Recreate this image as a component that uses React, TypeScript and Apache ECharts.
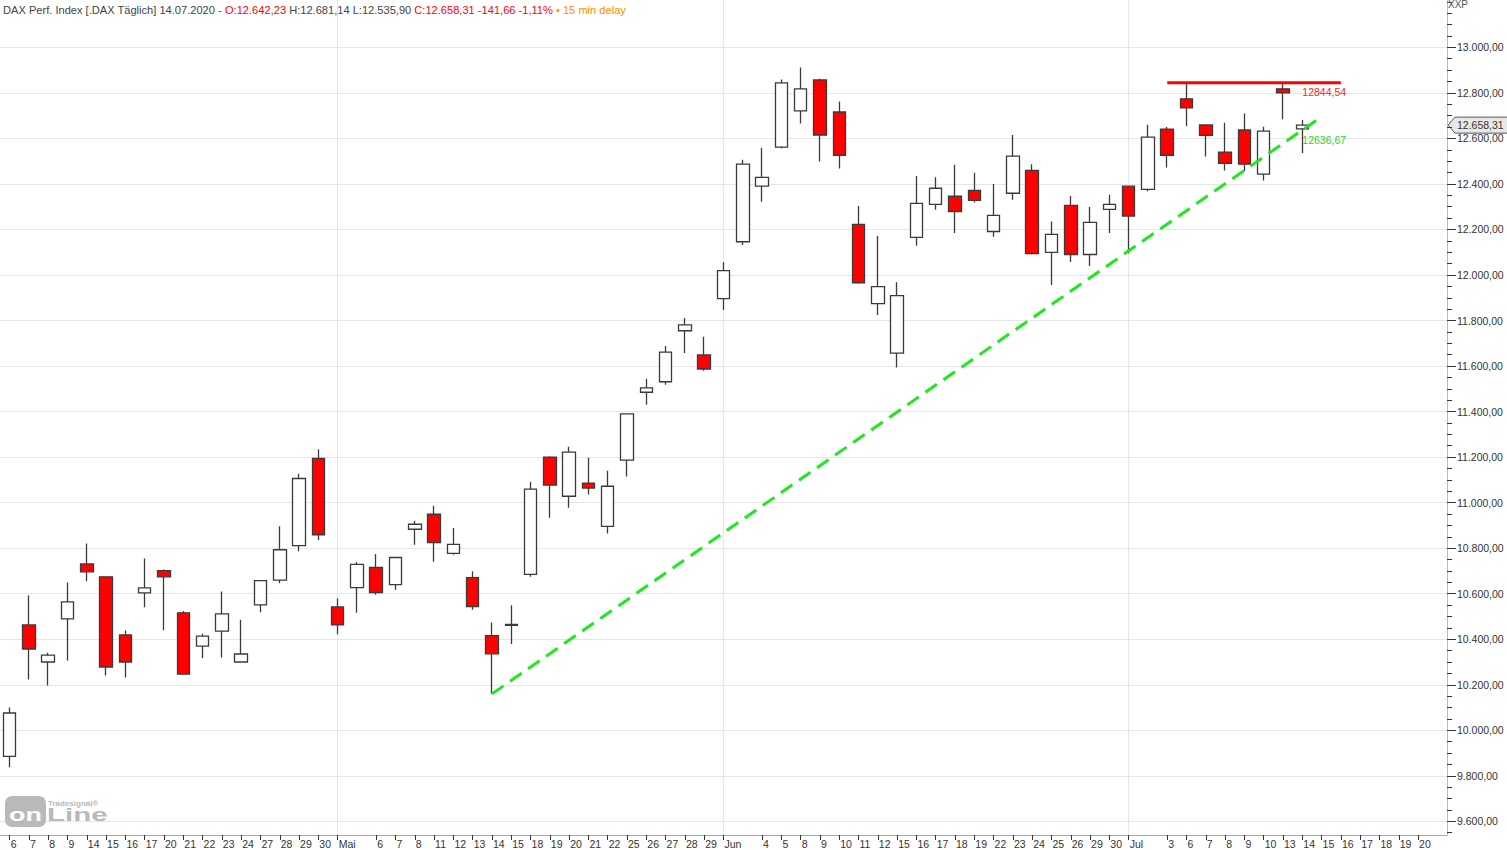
import { useEffect, useRef } from 'react';
import * as echarts from 'echarts';

const FONT = '"Liberation Sans", Arial, sans-serif';

// ---- categories (trading days + future calendar days) ----
const dates = [
  '2020-04-06', '2020-04-07', '2020-04-08', '2020-04-09', '2020-04-14', '2020-04-15', '2020-04-16', '2020-04-17',
  '2020-04-20', '2020-04-21', '2020-04-22', '2020-04-23', '2020-04-24', '2020-04-27', '2020-04-28', '2020-04-29', '2020-04-30',
  '2020-05-04', '2020-05-05', '2020-05-06', '2020-05-07', '2020-05-08', '2020-05-11', '2020-05-12', '2020-05-13', '2020-05-14',
  '2020-05-15', '2020-05-18', '2020-05-19', '2020-05-20', '2020-05-21', '2020-05-22', '2020-05-25', '2020-05-26', '2020-05-27',
  '2020-05-28', '2020-05-29',
  '2020-06-02', '2020-06-03', '2020-06-04', '2020-06-05', '2020-06-08', '2020-06-09', '2020-06-10', '2020-06-11', '2020-06-12',
  '2020-06-15', '2020-06-16', '2020-06-17', '2020-06-18', '2020-06-19', '2020-06-22', '2020-06-23', '2020-06-24', '2020-06-25',
  '2020-06-26', '2020-06-29', '2020-06-30',
  '2020-07-01', '2020-07-02', '2020-07-03', '2020-07-06', '2020-07-07', '2020-07-08', '2020-07-09', '2020-07-10', '2020-07-13',
  '2020-07-14', '2020-07-15', '2020-07-16', '2020-07-17', '2020-07-18', '2020-07-19', '2020-07-20', '2020-07-21',
];

const dayLabels = [
  '6', '7', '8', '9', '14', '15', '16', '17', '20', '21', '22', '23', '24', '27', '28', '29', '30',
  'Mai', '', '6', '7', '8', '11', '12', '13', '14', '15', '18', '19', '20', '21', '22', '25', '26', '27', '28', '29',
  'Jun', '', '4', '5', '8', '9', '10', '11', '12', '15', '16', '17', '18', '19', '22', '23', '24', '25', '26', '29', '30',
  'Jul', '', '3', '6', '7', '8', '9', '10', '13', '14', '15', '16', '17', '18', '19', '20', '',
];

// ---- OHLC values ----
const opens = [
  9885, 10463, 10300, 10489, 10731, 10674, 10419, 10604, 10701, 10516, 10370, 10436, 10300, 10551, 10660, 10811, 11194,
  10542, 10627, 10715, 10640, 10883, 10949, 10777, 10671, 10416, 10461, 10685, 11200, 11028, 11086, 10896, 11187, 11485,
  11531, 11755, 11649,
  11896, 12146, 12390, 12562, 12721, 12857, 12716, 12222, 11874, 11657, 12165, 12310, 12346, 12372, 12191, 12359, 12460,
  12099, 12306, 12090, 12288,
  12390, 12376, 12641, 12774, 12659, 12540, 12637, 12443, 12818, 12642.23,
];
const closes = [
  10076, 10357, 10330, 10564, 10696, 10278, 10300, 10626, 10674, 10247, 10414, 10511, 10335, 10657, 10793, 11106, 10859,
  10463, 10729, 10605, 10759, 10905, 10824, 10817, 10543, 10336, 10465, 11059, 11077, 11222, 11064, 11072, 11390, 11504,
  11661, 11781, 11587,
  12019, 12487, 12429, 12844, 12818, 12615, 12526, 11966, 11949, 11909, 12315, 12381, 12279, 12328, 12262, 12522, 12094,
  12178, 12090, 12231, 12310,
  12259, 12606, 12526, 12734, 12613, 12490, 12487, 12632, 12799.97, 12658.31,
];
const lows = [
  9838, 10223, 10197, 10307, 10655, 10241, 10232, 10540, 10439, 10246, 10316, 10320, 10298, 10518, 10646, 10787, 10836,
  10422, 10516, 10595, 10617, 10815, 10740, 10771, 10529, 10160, 10379, 10674, 10934, 10978, 11036, 10864, 11115, 11430,
  11518, 11657, 11579,
  11846, 12132, 12322, 12556, 12666, 12499, 12468, 11962, 11824, 11594, 12128, 12287, 12185, 12318, 12168, 12331, 12090,
  11956, 12057, 12040, 12185,
  12094, 12368, 12472, 12653, 12521, 12459, 12457, 12415, 12684, 12535.9,
];
const highs = [
  10100, 10592, 10341, 10649, 10821, 10676, 10438, 10755, 10706, 10524, 10424, 10610, 10486, 10660, 10896, 11127, 11235,
  10579, 10739, 10774, 10762, 10920, 10986, 10889, 10699, 10474, 10549, 11092, 11204, 11246, 11197, 11140, 11393, 11544,
  11688, 11811, 11729,
  12056, 12506, 12559, 12859, 12912, 12862, 12762, 12303, 12171, 11968, 12435, 12429, 12484, 12449, 12400, 12615, 12487,
  12235, 12347, 12299, 12352,
  12393, 12660, 12650, 12844.54, 12662, 12669, 12709, 12651, 12840, 12681.14,
];

// ---- y axis tick labels ----
const yLabelValues = [9600, 9800, 10000, 10200, 10400, 10600, 10800, 11000, 11200, 11400, 11600, 11800, 12000, 12200, 12400, 12600, 12800, 13000];
const Y_MIN = 9540;
const Y_MAX = 13208;
const Y_MINOR_STEP = 50;

// ---- drawn lines ----
const monthStarts = ['2020-05-04', '2020-06-02', '2020-07-01'];
const resistanceLine: [string, number][] = [['2020-07-03', 12844.54], ['2020-07-16', 12844.54]];
const trendLine: [string, number][] = [['2020-05-14', 10160], ['2020-07-15', 12695.6]];
const resistanceLabelValue = 12844.54;
const trendLabelValue = 12636.67;

const GRID_RIGHT = 60;
const GRID_BOTTOM = 15;

function fmtDE(v: number, thousands = true): string {
  const neg = v < 0;
  const s = Math.abs(v).toFixed(2);
  let [i, d] = s.split('.');
  if (thousands) i = i.replace(/\B(?=(\d{3})+(?!\d))/g, '.');
  return (neg ? '-' : '') + i + ',' + d;
}

export default function App() {
  const ref = useRef<HTMLDivElement>(null);

  useEffect(() => {
    document.body.style.margin = '0';
    const el = ref.current!;
    const chart = echarts.init(el, null, { renderer: 'svg' });

    const candleData = opens.map((o, i) => [o, closes[i], lows[i], highs[i]]);
    const minorTicks: number[] = [];
    for (let v = Math.ceil(Y_MIN / Y_MINOR_STEP) * Y_MINOR_STEP; v <= Y_MAX; v += Y_MINOR_STEP) minorTicks.push(v);

    const option: any = {
      animation: false,
      backgroundColor: '#ffffff',
      grid: { left: -2.67, right: GRID_RIGHT, top: 0, bottom: GRID_BOTTOM, containLabel: false },
      xAxis: {
        type: 'category',
        data: dates,
        boundaryGap: true,
        axisLine: { show: true, lineStyle: { color: '#c49c9c', width: 1 } },
        axisTick: {
          show: true,
          alignWithLabel: true,
          interval: (i: number) => dayLabels[i] !== '',
          length: 5,
          lineStyle: { color: '#333333' },
        },
        axisLabel: {
          interval: 0,
          formatter: (_v: string, i: number) => dayLabels[i],
          align: 'left',
          padding: [0, 0, 0, 1],
          margin: 3,
          fontSize: 10.5,
          color: '#333333',
          fontFamily: FONT,
        },
        splitLine: { show: false },
      },
      yAxis: [
        {
          type: 'value',
          position: 'right',
          min: Y_MIN,
          max: Y_MAX,
          axisLine: { show: true, lineStyle: { color: '#d8b0b0' } },
          axisTick: { show: true, length: 5, lineStyle: { color: '#333333' }, customValues: minorTicks },
          axisLabel: {
            customValues: yLabelValues,
            formatter: (v: number) => fmtDE(v),
            margin: 10,
            fontSize: 10.5,
            color: '#333333',
            fontFamily: FONT,
          },
          splitLine: { show: false },
        },
        {
          type: 'value',
          position: 'right',
          min: Y_MIN,
          max: Y_MAX,
          axisLine: { show: false },
          axisTick: { show: true, length: 9, lineStyle: { color: '#333333' }, customValues: yLabelValues },
          axisLabel: { show: false },
          splitLine: { show: true, lineStyle: { color: '#e6e6e6', width: 1 } },
        },
      ],
      series: [
        {
          type: 'candlestick',
          yAxisIndex: 0,
          data: candleData,
          barWidth: 13,
          itemStyle: {
            color: '#ffffff',
            color0: '#ff0000',
            borderColor: '#3a3a3a',
            borderColor0: '#3a3a3a',
            borderWidth: 1.3,
          },
          markLine: {
            silent: true,
            symbol: 'none',
            z: 1,
            label: { show: false },
            lineStyle: { color: '#e6e6e6', type: 'solid', width: 1 },
            emphasis: { disabled: true },
            data: monthStarts.map((d) => ({ xAxis: d })),
          },
        },
        {
          type: 'line',
          yAxisIndex: 0,
          data: trendLine,
          symbol: 'none',
          silent: true,
          z: 5,
          lineStyle: { color: '#1ee81e', width: 3, type: [14, 8] },
        },
        {
          type: 'line',
          yAxisIndex: 0,
          data: resistanceLine,
          symbol: 'none',
          silent: true,
          z: 5,
          lineStyle: { color: '#ff0000', width: 3 },
        },
      ],
    };

    chart.setOption(option);

    const lastIdx = opens.length - 1;
    const lastClose = closes[lastIdx];
    const prevClose = closes[lastIdx - 1];
    const change = lastClose - prevClose;
    const pct = (change / prevClose) * 100;
    const dParts = dates[lastIdx].split('-');
    const dateStr = `${dParts[2]}.${dParts[1]}.${dParts[0]}`;

    const [resX, resY] = chart.convertToPixel({ gridIndex: 0 }, [lastIdx, resistanceLabelValue]) as number[];
    const [trX, trY] = chart.convertToPixel({ gridIndex: 0 }, [lastIdx, trendLabelValue]) as number[];
    const tagY = chart.convertToPixel({ yAxisIndex: 0 }, lastClose) as number;
    const axisX = chart.getWidth() - GRID_RIGHT;

    const graphics: any[] = [
      {
        type: 'text',
        x: 3,
        y: 4,
        style: {
          text:
            `{g|DAX Perf. Index [.DAX Täglich] ${dateStr} - }` +
            `{r|O:${fmtDE(opens[lastIdx])}}` +
            `{g| H:${fmtDE(highs[lastIdx])} L:${fmtDE(lows[lastIdx])} }` +
            `{r|C:${fmtDE(lastClose)} ${fmtDE(change)} ${fmtDE(pct)}%}` +
            `{o| • 15 min delay}`,
          rich: {
            g: { fill: '#444444', fontSize: 11.1, fontFamily: FONT },
            r: { fill: '#ff0000', fontSize: 11.1, fontFamily: FONT },
            o: { fill: '#ff8c00', fontSize: 11.1, fontFamily: FONT },
          },
        },
        z: 100,
      },
      {
        type: 'text',
        x: axisX + 1,
        y: -1,
        style: { text: 'XXP', fill: '#555555', fontSize: 10, fontFamily: FONT },
        z: 100,
      },
      {
        type: 'text',
        x: resX,
        y: resY + 4,
        style: { text: fmtDE(resistanceLabelValue, false), fill: '#ff2020', fontSize: 10.5, fontFamily: FONT },
        z: 100,
      },
      {
        type: 'text',
        x: trX,
        y: trY + 4,
        style: { text: fmtDE(trendLabelValue, false), fill: '#1ed81e', fontSize: 10.5, fontFamily: FONT },
        z: 100,
      },
      {
        type: 'group',
        x: axisX + 1,
        y: tagY,
        z: 100,
        children: [
          {
            type: 'polygon',
            shape: { points: [[0, 0], [7, -8], [60, -8], [60, 8], [7, 8]] },
            style: { fill: '#e8e8e8', stroke: '#555555', lineWidth: 1 },
          },
          {
            type: 'text',
            x: 9,
            y: 0,
            style: { text: fmtDE(lastClose), fill: '#333333', fontSize: 10.5, fontFamily: FONT, verticalAlign: 'middle' },
          },
        ],
      },
      {
        type: 'group',
        x: 5,
        y: 796,
        z: 90,
        children: [
          { type: 'rect', shape: { x: 0, y: 0, width: 41, height: 31, r: 7 }, style: { fill: '#b9b9b9' } },
          {
            type: 'text',
            x: 4,
            y: 10,
            scaleX: 1.5,
            style: { text: 'on', fill: '#ffffff', fontSize: 18, fontWeight: 'bold', fontFamily: FONT },
          },
          {
            type: 'text',
            x: 42,
            y: 9,
            scaleX: 1.55,
            style: { text: 'Line', fill: '#b9b9b9', fontSize: 19, fontWeight: 'bold', fontFamily: FONT },
          },
          {
            type: 'text',
            x: 43,
            y: 3,
            style: { text: 'Tradesignal®', fill: '#b9b9b9', fontSize: 8, fontWeight: 'bold', fontFamily: FONT },
          },
        ],
      },
    ];

    chart.setOption({ graphic: graphics });

    return () => chart.dispose();
  }, []);

  return (
    <div
      ref={ref}
      style={{ position: 'absolute', left: 0, top: 0, width: 1507, height: 850, background: '#ffffff' }}
    />
  );
}
